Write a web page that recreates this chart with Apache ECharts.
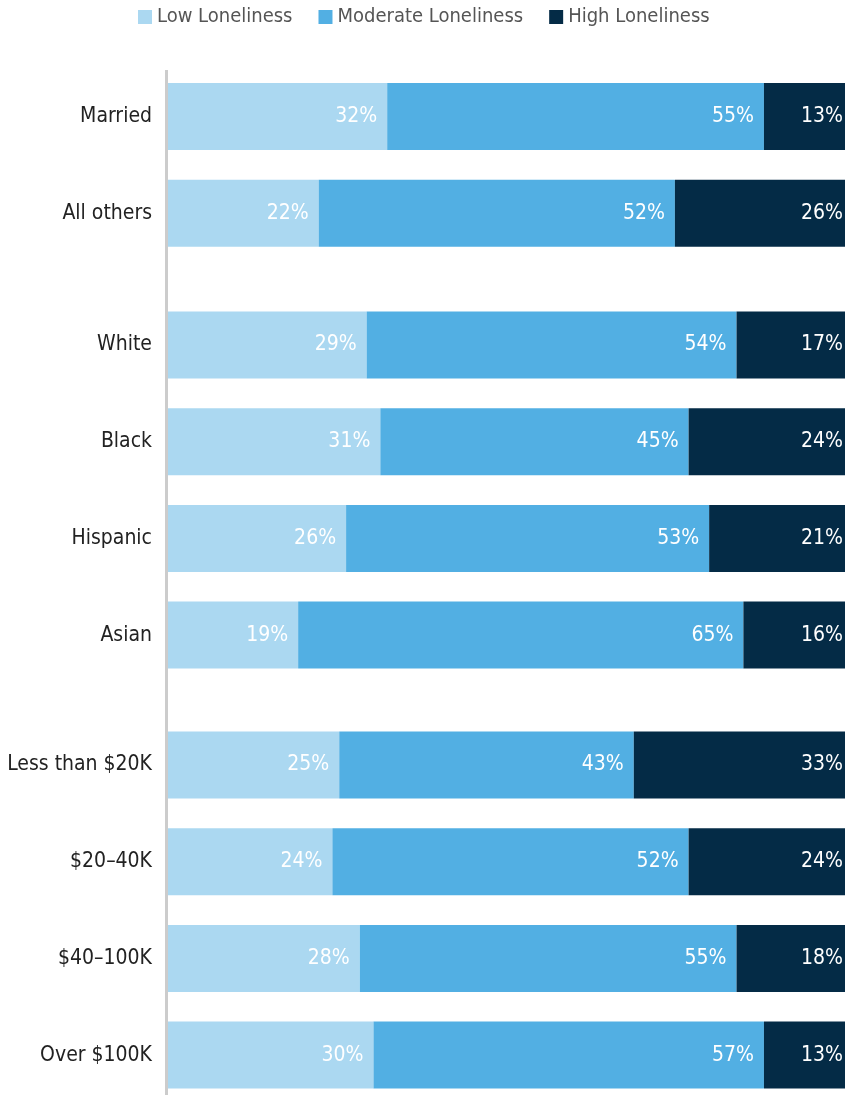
<!DOCTYPE html>
<html>
<head>
<meta charset="utf-8">
<script src="https://cdn.jsdelivr.net/npm/echarts@6/dist/echarts.min.js"></script>
<style>
  html, body { margin: 0; padding: 0; background: #fff; }
  #chart { width: 845px; height: 1095px; }
</style>
</head>
<body>
<div id="chart"></div>
<script>
// groups of categories, drawn in three stacked grids
const maritalCats = ['Married', 'All others']
const raceCats = ['White', 'Black', 'Hispanic', 'Asian']
const incomeCats = ['Less than $20K', '$20–40K', '$40–100K', 'Over $100K']

const maritalLow = [32, 22]
const maritalModerate = [55, 52]
const maritalHigh = [13, 26]

const raceLow = [29, 31, 26, 19]
const raceModerate = [54, 45, 53, 65]
const raceHigh = [17, 24, 21, 16]

const incomeLow = [25, 24, 28, 30]
const incomeModerate = [43, 52, 55, 57]
const incomeHigh = [33, 24, 18, 13]

const seriesNames = ['Low Loneliness', 'Moderate Loneliness', 'High Loneliness']
const colors = ['#abd8f1', '#52afe3', '#042b46']

const font = "'Liberation Sans Narrow', 'DejaVu Sans Condensed', 'Roboto', sans-serif"
const slot = 96.7

const groups = [
  {cats: maritalCats, data: [maritalLow, maritalModerate, maritalHigh], top: 116.5 - slot / 2},
  {cats: raceCats, data: [raceLow, raceModerate, raceHigh], top: 345 - slot / 2},
  {cats: incomeCats, data: [incomeLow, incomeModerate, incomeHigh], top: 765 - slot / 2}
]

const chart = echarts.init(document.getElementById('chart'))

const grid = []
const xAxis = []
const yAxis = []
const series = []

groups.forEach((g, i) => {
  grid.push({
    left: 168,
    width: 685,
    top: g.top,
    height: slot * g.cats.length,
    containLabel: false,
    outerBoundsMode: 'none'
  })
  xAxis.push({
    gridIndex: i,
    type: 'value',
    min: 0,
    max: 100,
    show: false
  })
  yAxis.push({
    gridIndex: i,
    type: 'category',
    inverse: true,
    data: g.cats,
    axisLine: {show: false},
    axisTick: {show: false},
    axisLabel: {
      margin: 16,
      fontFamily: font,
      fontSize: 21,
      fontWeight: 500,
      color: '#222'
    }
  })
  g.data.forEach((vals, k) => {
    series.push({
      name: seriesNames[k],
      type: 'bar',
      stack: 'g' + i,
      xAxisIndex: i,
      yAxisIndex: i,
      barWidth: 67,
      itemStyle: {color: colors[k]},
      label: {
        show: true,
        position: 'insideRight',
        distance: 10,
        formatter: '{c}%',
        fontFamily: font,
        fontSize: 21,
        color: '#fff'
      },
      data: vals
    })
  })
})

const option = {
  animation: false,
  legend: {
    top: 2,
    left: 133,
    itemWidth: 14,
    itemHeight: 14,
    itemGap: 26,
    icon: 'rect',
    data: seriesNames,
    textStyle: {
      fontFamily: font,
      fontSize: 20,
      color: '#555'
    }
  },
  graphic: [{
    type: 'line',
    shape: {x1: 166.5, y1: 70, x2: 166.5, y2: 1095},
    style: {stroke: '#cccccc', lineWidth: 3}
  }],
  grid: grid,
  xAxis: xAxis,
  yAxis: yAxis,
  series: series
}

chart.setOption(option)
</script>
</body>
</html>
